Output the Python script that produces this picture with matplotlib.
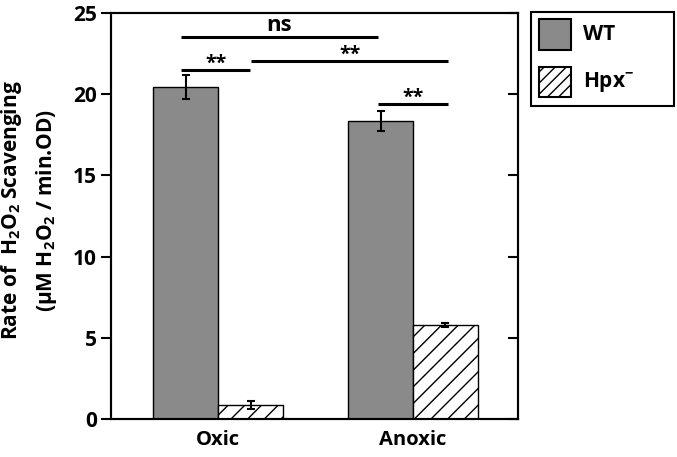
import numpy as np
import matplotlib
matplotlib.use("Agg")
import matplotlib.pyplot as plt
from matplotlib.patches import Rectangle

plt.rcParams['font.family'] = ['Open Sans', 'DejaVu Sans']
plt.rcParams['font.weight'] = 'bold'
plt.rcParams['mathtext.fontset'] = 'custom'
plt.rcParams['mathtext.rm'] = 'Open Sans:bold'
plt.rcParams['mathtext.it'] = 'Open Sans:bold'
plt.rcParams['mathtext.bf'] = 'Open Sans:bold'
plt.rcParams['mathtext.default'] = 'rm'
plt.rcParams['hatch.linewidth'] = 1.0

# Datos
condiciones = ["Oxic", "Anoxic"]
series = ["WT", "Hpx$^{-}$"]
wt = [20.45, 18.35]
wt_err = [0.75, 0.6]
hpx = [0.85, 5.8]
hpx_err = [0.25, 0.12]
yticks = [0, 5, 10, 15, 20, 25]

# comparaciones: (x1, x2, altura, texto)
comparaciones = [
    (-0.19, 0.82, 23.5, "ns"),
    (-0.19, 0.165, 21.5, "**"),
    (0.17, 1.18, 22.05, "**"),
    (0.82, 1.18, 19.4, "**"),
]

W, H = 677, 457
fig = plt.figure(figsize=(6.77, 4.57), dpi=100)
ax = fig.add_axes([0.164, 0.083, 0.601, 0.889])

x = np.arange(len(condiciones))
w = 0.333
estilos = [dict(color='#8a8a8a', hatch=None), dict(color='white', hatch='///')]
ax.bar(x - w/2, wt, w, color=estilos[0]['color'], edgecolor='black', linewidth=1.0)
ax.bar(x + w/2, hpx, w, color=estilos[1]['color'], edgecolor='black', linewidth=1.0, hatch='//')
ax.errorbar(x - w/2, wt, yerr=wt_err, fmt='none', ecolor='black', elinewidth=1.5, capsize=3, capthick=1.5)
ax.errorbar(x + w/2, hpx, yerr=hpx_err, fmt='none', ecolor='black', elinewidth=1.5, capsize=3, capthick=1.5)

for x1, x2, h, txt in comparaciones:
    ax.plot([x1, x2], [h, h], color='black', lw=2.2, solid_capstyle='butt')
    if txt == "**":
        ax.text((x1 + x2) / 2, h - 0.25, txt, ha='center', va='bottom', fontsize=14, fontweight='bold')
    else:
        ax.text((x1 + x2) / 2, h + 0.1, txt, ha='center', va='bottom', fontsize=16, fontweight='bold')

ax.set_xlim(-0.549, 1.538)
ax.set_ylim(0, 25)
ax.set_yticks(yticks)
ax.set_xticks(x)
ax.set_xticklabels(condiciones, fontsize=14.5, fontweight='bold')
ax.tick_params(axis='x', length=0, pad=8)
ax.tick_params(axis='y', direction='out', length=7, width=1.5, labelsize=15, pad=3)
for s in ax.spines.values():
    s.set_linewidth(1.5)

axr = ax.twinx()
axr.set_ylim(0, 25)
axr.set_yticks(yticks)
axr.tick_params(axis='y', direction='in', length=7, width=1.5, labelright=False)
for s in axr.spines.values():
    s.set_linewidth(1.5)

# etiqueta del eje y en dos lineas
fig.text(12 / W, 0.54, "Rate of  H$_2$O$_2$ Scavenging", rotation=90,
         ha='center', va='center', fontsize=15, fontweight='bold')
fig.text(47 / W, 0.54, "(µM H$_2$O$_2$ / min.OD)", rotation=90,
         ha='center', va='center', fontsize=15, fontweight='bold')

# leyenda dibujada a mano (caja mas ancha que el contenido)
def px(x0, y0, x1, y1):
    return (x0 / W, 1 - y1 / H), (x1 - x0) / W, (y1 - y0) / H

xy, bw, bh = px(531, 12, 674, 106)
fig.patches.append(Rectangle(xy, bw, bh, transform=fig.transFigure, facecolor='white',
                             edgecolor='black', linewidth=1.5))
filas = [(19, 50), (67, 97)]
for (y0, y1), nombre, est in zip(filas, series, estilos):
    xy, bw, bh = px(539, y0, 571, y1)
    fig.patches.append(Rectangle(xy, bw, bh, transform=fig.transFigure, facecolor=est['color'],
                                 edgecolor='black', linewidth=1.5, hatch=est['hatch']))
    fig.text(583 / W, 1 - (y0 + y1) / 2 / H, nombre, ha='left', va='center',
             fontsize=15, fontweight='bold')

fig.savefig("out.png", dpi=100)
